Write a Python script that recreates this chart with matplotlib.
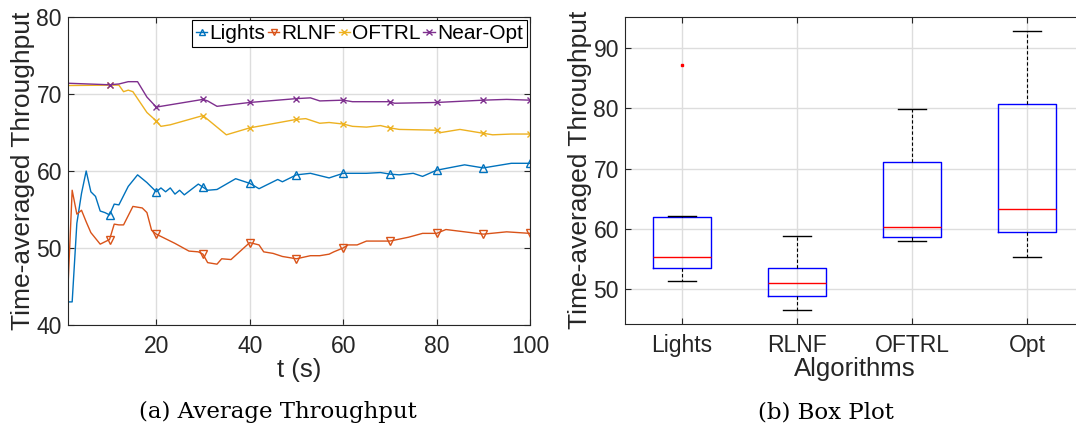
import numpy as np
import matplotlib.pyplot as plt

# line chart data (time-averaged throughput over time)
t_lights = [1, 2, 3, 4, 5, 6, 7, 8, 9, 10, 11, 12, 14, 16, 18, 20, 21, 22, 23, 24, 25, 26, 29, 30, 31, 33, 37, 40,
            42, 46, 47, 50, 53, 57, 60, 62, 65, 68, 70, 72, 75, 77, 80, 86, 90, 96, 100]
y_lights = [43.0, 43.0, 53.2, 57.1, 60.0, 57.3, 56.7, 54.8, 54.6, 54.3, 55.7, 55.6, 58.0, 59.5, 58.5, 57.3, 57.8,
            57.3, 57.8, 57.0, 57.5, 56.9, 58.3, 57.9, 57.5, 57.6, 59.0, 58.4, 57.7, 58.9, 58.6, 59.5, 59.7, 59.1,
            59.7, 59.7, 59.7, 59.8, 59.6, 59.5, 59.7, 59.3, 60.1, 60.8, 60.4, 61.0, 61.0]

t_rlnf = [1, 2, 3, 4, 5, 6, 8, 10, 11, 12, 13, 15, 17, 18, 19, 20, 24, 27, 29, 30, 31, 33, 34, 36, 40, 42, 43, 45,
          47, 50, 53, 55, 57, 58, 60, 61, 63, 65, 70, 74, 77, 80, 82, 90, 95, 100]
y_rlnf = [43.5, 57.5, 54.4, 54.9, 53.4, 52.0, 50.5, 51.1, 53.1, 53.0, 53.0, 55.4, 55.2, 54.6, 52.3, 51.8, 50.6,
          49.6, 49.5, 49.2, 48.1, 47.9, 48.6, 48.5, 50.7, 50.4, 49.5, 49.3, 48.9, 48.6, 49.0, 49.0, 49.2, 49.5,
          50.0, 50.4, 50.4, 50.9, 50.9, 51.4, 51.9, 51.9, 52.4, 51.8, 52.1, 51.9]

t_oftrl = [1, 10, 12, 13, 14, 15, 18, 20, 21, 23, 30, 35, 40, 50, 52, 55, 57, 60, 62, 65, 68, 70, 72, 80, 81, 85,
           90, 92, 96, 100]
y_oftrl = [71.1, 71.15, 71.15, 70.3, 70.5, 70.3, 67.6, 66.5, 65.8, 66.0, 67.2, 64.7, 65.6, 66.7, 66.8, 66.2, 66.3,
           66.1, 65.8, 65.7, 65.9, 65.6, 65.4, 65.3, 65.0, 65.4, 64.9, 64.7, 64.8, 64.8]

t_near = [1, 10, 12, 14, 16, 18, 20, 30, 31, 33, 40, 50, 53, 55, 60, 62, 70, 71, 80, 90, 95, 100]
y_near = [71.4, 71.2, 71.3, 71.6, 71.6, 69.6, 68.3, 69.3, 69.1, 68.4, 68.9, 69.4, 69.5, 69.1, 69.2, 69.0, 69.0,
          68.8, 68.9, 69.2, 69.3, 69.2]

# box plot data
algos = ['Lights', 'RLNF', 'OFTRL', 'Opt']
box_q1 = [53.5, 48.9, 58.6, 59.45]
box_med = [55.3, 51.1, 60.4, 63.3]
box_q3 = [62.05, 53.6, 71.2, 80.8]
box_lo = [51.3, 46.5, 58.0, 55.4]
box_hi = [62.1, 58.85, 79.9, 92.8]
box_fliers = [[87.2], [], [], []]

c_blue = '#0072BD'
c_orange = '#D95319'
c_yellow = '#EDB120'
c_purple = '#7E2F8E'
txt = '#262626'

plt.rcParams['font.family'] = ['Liberation Sans', 'DejaVu Sans']
plt.rcParams['font.size'] = 16.5

fig = plt.figure(figsize=(10.76, 4.29), dpi=100)

#left: average throughput
ax1 = fig.add_axes([67.5/1076, 104/429, 462.5/1076, 308/429])

def marks(t):
    return [i for i, v in enumerate(t) if v % 10 == 0]

ax1.plot(t_lights, y_lights, color=c_blue, lw=1, marker='^', mfc='none', ms=6, markevery=marks(t_lights), label='Lights')
ax1.plot(t_rlnf, y_rlnf, color=c_orange, lw=1, marker='v', mfc='none', ms=6, markevery=marks(t_rlnf), label='RLNF')
ax1.plot(t_oftrl, y_oftrl, color=c_yellow, lw=1, marker='x', ms=5, markevery=marks(t_oftrl), label='OFTRL')
ax1.plot(t_near, y_near, color=c_purple, lw=1, marker='x', ms=5, markevery=marks(t_near), label='Near-Opt')

ax1.set_xlim(1, 100)
ax1.set_ylim(40, 80)
ax1.set_xticks([20, 40, 60, 80, 100])
ax1.set_yticks([40, 50, 60, 70, 80])
ax1.grid(True, color='#dddddd', lw=1)
ax1.set_axisbelow(True)
ax1.tick_params(direction='in', top=True, right=True, length=4, colors=txt, labelcolor=txt)
ax1.tick_params(axis='x', pad=7)
ax1.tick_params(axis='y', pad=4)
ax1.set_xlabel('t (s)', color=txt, fontsize=18.5, labelpad=0)
ax1.set_ylabel('Time-averaged Throughput', color=txt, fontsize=19, labelpad=1)
leg = ax1.legend(loc='upper right', ncol=4, handlelength=0.55, handletextpad=0.1, columnspacing=0.12,
                 borderpad=0.2, borderaxespad=0.15, fancybox=False, edgecolor='black', framealpha=1,
                 fontsize=15, markerscale=0.8)
leg.get_frame().set_linewidth(0.8)
for s in ax1.spines.values():
    s.set_color(txt)

#right: box plot
ax2 = fig.add_axes([624.5/1076, 105/429, 460/1076, 307.5/429])
stats = []
for i in range(len(algos)):
    stats.append(dict(med=box_med[i], q1=box_q1[i], q3=box_q3[i], whislo=box_lo[i], whishi=box_hi[i],
                      fliers=box_fliers[i], label=algos[i]))
ax2.bxp(stats, positions=[1, 2, 3, 4], widths=0.5, capwidths=0.25,
        boxprops=dict(color='blue', lw=1),
        medianprops=dict(color='red', lw=1),
        whiskerprops=dict(color='black', lw=0.8, linestyle=(0, (3, 2))),
        capprops=dict(color='black', lw=1),
        flierprops=dict(marker='s', markersize=2, markerfacecolor='red', markeredgecolor='red'))
ax2.set_xlim(0.5, 4.5)
ax2.set_ylim(44.25, 95.25)
ax2.set_yticks([50, 60, 70, 80, 90])
ax2.grid(True, color='#dddddd', lw=1)
ax2.set_axisbelow(True)
ax2.tick_params(direction='in', top=True, right=True, length=4, colors=txt, labelcolor=txt)
ax2.tick_params(axis='x', pad=7)
ax2.tick_params(axis='y', pad=4)
ax2.set_xlabel('Algorithms', color=txt, fontsize=18.5, labelpad=0)
ax2.set_ylabel('Time-averaged Throughput', color=txt, fontsize=19, labelpad=1)
for s in ax2.spines.values():
    s.set_color(txt)

fig.text(0.2585, 0.039, '(a) Average Throughput', family='DejaVu Serif', fontsize=16.5, ha='center', va='center')
fig.text(0.7675, 0.039, '(b) Box Plot', family='DejaVu Serif', fontsize=16.5, ha='center', va='center')

fig.savefig('out.png', dpi=100)
